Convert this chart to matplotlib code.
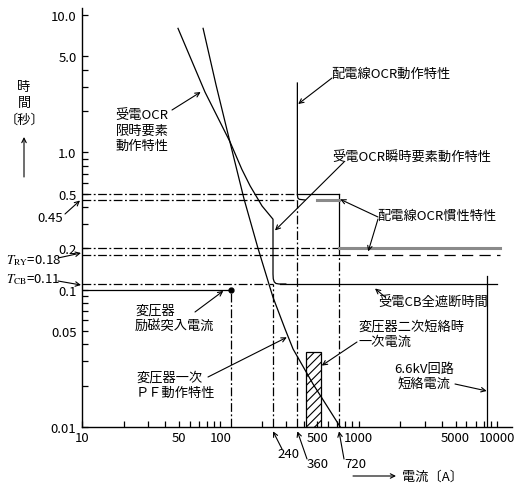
import matplotlib
matplotlib.use('Agg')
import matplotlib.pyplot as plt
from matplotlib.patches import Rectangle
from matplotlib.ticker import FixedLocator, NullFormatter

plt.rcParams['font.family'] = ['Noto Sans CJK JP', 'DejaVu Sans']
plt.rcParams['mathtext.fontset'] = 'stix'
plt.rcParams['hatch.linewidth'] = 0.8
FS = 9.5

########## DATA ##########
# 変圧器一次 PF 動作特性
pf_current = [75, 93, 117, 148, 187, 240, 294, 335, 468, 735]
pf_time = [8.0, 3.1, 1.2, 0.46, 0.2, 0.088, 0.0514, 0.037, 0.0205, 0.01]

# 受電OCR 限時要素 + 瞬時要素
ocr_current = [49.4, 77.4, 117.5, 142.8, 164, 200, 240, 240, 241, 245, 252, 265, 297]
ocr_time = [8.0, 2.75, 1.19, 0.754, 0.57, 0.407, 0.326, 0.13, 0.12, 0.114, 0.111, 0.11, 0.11]

# 配電線OCR 動作特性
dist_current = [360, 360, 363, 372, 409]
dist_time = [3.2, 0.49, 0.465, 0.455, 0.45]

# 配電線OCR 慣性特性
inertia_upper = (500, 720, 0.45)
inertia_lower = (720, 10500, 0.2)
dashed_lower = (720, 10500, 0.18)
box_time = (0.5, 0.2)

# dash-dot reference levels (time, end current)
level_times = [0.5, 0.45, 0.2, 0.18, 0.11]
level_ends = [360, 360, 720, 720, 240]

# dash-dot marker currents (current, top time)
marker_currents = [120, 240, 360, 720]
marker_tops = [0.1, 0.11, 0.45, 0.2]

inrush_current = 120
inrush_time = 0.1
cb_time = 0.11
cb_range = (270, 10000)
sc_current = 8500
sc_top = 0.125
tr2_range = (417, 532)
tr2_top = 0.035

x_major = [10, 50, 100, 500, 1000, 5000, 10000]
x_labels = ['10', '50', '100', '500', '1000', '5000', '10000']
y_major = [10, 5, 1, 0.5, 0.2, 0.1, 0.05, 0.01]
y_labels = ['10.0', '5.0', '1.0', '0.5', '0.2', '0.1', '0.05', '0.01']

W, H = 518, 489


def fp(x, y):
    # pixel position (from top-left) -> figure fraction
    return (x / W, 1 - y / H)


fig = plt.figure(figsize=(W / 100, H / 100), dpi=100)
ax = fig.add_axes([82 / W, 1 - 428 / H, (512 - 82) / W, (428 - 9.3) / H])
ax.set_xscale('log')
ax.set_yscale('log')
ax.set_xlim(10, 12800)
ax.set_ylim(0.01, 11.2)

dashdot = (0, (7, 2, 1.5, 2))
lw = 0.9

# reference levels
for t, e in zip(level_times, level_ends):
    ax.plot([10, e], [t, t], color='black', lw=lw, ls=dashdot)
for c, t in zip(marker_currents, marker_tops):
    ax.plot([c, c], [0.01, t], color='black', lw=lw, ls=dashdot)

# curves
ax.plot(pf_current, pf_time, color='black', lw=lw)
ax.plot(ocr_current, ocr_time, color='black', lw=lw)
ax.plot(dist_current, dist_time, color='black', lw=lw)

# box of distribution OCR
ax.plot([360, 720], [box_time[0], box_time[0]], color='black', lw=lw)
ax.plot([720, 720], [box_time[0], box_time[1]], color='black', lw=lw)
ax.plot(inertia_upper[:2], [inertia_upper[2]] * 2, color='#8a8a8a', lw=2.2)
ax.plot(inertia_lower[:2], [inertia_lower[2]] * 2, color='#8a8a8a', lw=2.2)
ax.plot(dashed_lower[:2], [dashed_lower[2]] * 2, color='black', lw=lw, ls=(0, (9, 5)))

# inrush point and CB line
ax.plot([10, inrush_current], [inrush_time, inrush_time], color='black', lw=lw)
ax.plot([inrush_current], [inrush_time], 'o', color='black', ms=3.5)
ax.plot(cb_range, [cb_time, cb_time], color='black', lw=lw)
ax.plot([sc_current, sc_current], [0.01, sc_top], color='black', lw=lw)

# transformer secondary short-circuit range
ax.add_patch(Rectangle((tr2_range[0], 0.01), tr2_range[1] - tr2_range[0], tr2_top - 0.01,
                       facecolor='white', edgecolor='black', lw=lw, hatch='////', zorder=1))

# axes style
for s in ['top', 'right']:
    ax.spines[s].set_visible(False)
for s in ['left', 'bottom']:
    ax.spines[s].set_linewidth(1.0)
ax.xaxis.set_major_locator(FixedLocator(x_major))
ax.set_xticklabels(x_labels)
x_minor = [m * 10 ** d for d in range(1, 4) for m in range(2, 10)]
ax.xaxis.set_minor_locator(FixedLocator([v for v in x_minor if v not in x_major]))
ax.yaxis.set_major_locator(FixedLocator(y_major))
ax.set_yticklabels(y_labels)
y_minor = [0.02, 0.03, 0.04, 0.06, 0.07, 0.08, 0.09, 0.3, 0.4, 0.6, 0.7, 0.8, 0.9, 2, 3, 4]
ax.yaxis.set_minor_locator(FixedLocator(y_minor))
ax.xaxis.set_minor_formatter(NullFormatter())
ax.yaxis.set_minor_formatter(NullFormatter())
ax.tick_params(which='both', direction='in', length=4, width=0.9, labelsize=FS)
ax.tick_params(axis='x', pad=3)
ax.tick_params(axis='y', pad=4)


def arrow(start_px, target, coords='data'):
    ax.annotate('', xy=target, xycoords=coords, xytext=fp(*start_px),
                textcoords='figure fraction', annotation_clip=False,
                arrowprops=dict(arrowstyle='->', lw=0.8, color='black',
                                shrinkA=0, shrinkB=0, mutation_scale=8))


def label(px, py, s, ha='left', va='center', **kw):
    fig.text(*fp(px, py), s, ha=ha, va=va, fontsize=FS, linespacing=1.25, **kw)


# y axis title
label(24, 88, '時', ha='center')
label(24, 104, '間', ha='center')
label(25, 120, '〔秒〕', ha='center')
arrow((24, 178), fp(24, 138), coords='figure fraction')

# x axis title
arrow((353, 477), fp(396, 477), coords='figure fraction')
label(402, 477, '電流〔A〕')

# annotations
label(142, 131, '受電OCR\n限時要素\n動作特性', ha='center')
arrow((172, 111), (72, 2.75))

label(331, 74, '配電線OCR動作特性')
arrow((332, 79), (365, 2.25))

label(332, 158, '受電OCR瞬時要素動作特性')
arrow((344, 163), (248, 0.27))

label(377, 216, '配電線OCR慣性特性')
arrow((378, 218), (735, 0.455))
arrow((378, 220), (1170, 0.19))

label(63, 219, '0.45', ha='right')
arrow((65, 215), fp(80, 201.5), coords='figure fraction')

label(6, 261, r'$T_{\rm RY}$=0.18')
arrow((58, 259), fp(81, 254), coords='figure fraction')
label(6, 280, r'$T_{\rm CB}$=0.11')
arrow((58, 282), fp(81, 286), coords='figure fraction')

label(135, 319, '変圧器\n励磁突入電流')
arrow((195, 313), (105, 0.098))

label(136, 386, '変圧器一次\nＰＦ動作特性')
arrow((208, 378), (302, 0.045))

label(358, 335, '変圧器二次短絡時\n一次電流')
arrow((357, 343), (540, 0.028))

label(378, 303, '受電CB全遮断時間')
arrow((385, 298), (1310, 0.102))

label(424, 377, '6.6kV回路\n短絡電流', ha='center')
arrow((455, 385), (8400, 0.0183))

# current markers under the axis
for c, (lx, ly), (sx, sy) in zip(marker_currents[1:],
                                 [(288, 455), (318, 465), (355, 465)],
                                 [(282, 450), (307, 460), (344, 460)]):
    label(lx, ly, str(c), ha='center')
    arrow((sx, sy), (c, 0.0093))

fig.savefig('out.png', dpi=100)
